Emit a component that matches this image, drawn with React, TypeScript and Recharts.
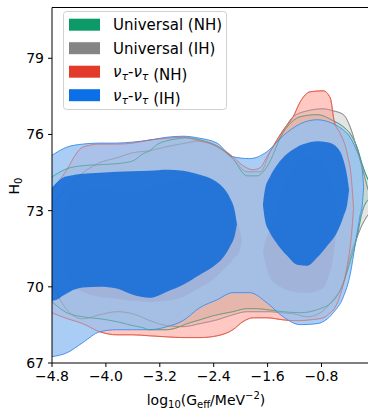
import { ComposedChart, Area, XAxis, YAxis, ReferenceLine } from "recharts";

// contour bands, one row per slice: [log10 Geff, lower H0, upper H0]
type Row = [number, number, number];

const X_TICKS = [-4.8, -4.0, -3.2, -2.4, -1.6, -0.8];
const Y_TICKS = [67, 70, 73, 76, 79];

// Universal (NH)
const universalNH95: Row[] = [
  [-4.8, 69.41, 74.33],
  [-4.58, 68.98, 74.65],
  [-4.345, 68.82, 74.77],
  [-4.09, 68.74, 74.81],
  [-3.84, 68.63, 74.85],
  [-3.6, 68.47, 74.96],
  [-3.45, 68.39, 75.24],
  [-3.35, 68.31, 75.36],
  [-3.245, 68.31, 75.6],
  [-3.095, 68.31, 75.75],
  [-2.945, 68.39, 75.83],
  [-2.795, 68.55, 75.87],
  [-2.605, 68.7, 75.79],
  [-2.41, 68.86, 75.6],
  [-2.115, 69.02, 75.04],
  [-1.905, 69.14, 74.37],
  [-1.755, 69.14, 74.37],
  [-1.61, 69.1, 74.73],
  [-1.37, 69.02, 76.07],
  [-1.115, 68.98, 76.7],
  [-0.865, 69.1, 76.78],
  [-0.625, 69.45, 76.54],
  [-0.475, 70.16, 76.3],
  [-0.375, 70.99, 76.03],
  [-0.27, 72.01, 75.48],
  [-0.195, 72.96, 74.81],
  [-0.11, 73.43, 74.22],
];

// Universal (IH)
const universalIH95: Row[] = [
  [-4.8, 70.12, 73.19],
  [-4.58, 69.1, 73.94],
  [-4.345, 68.74, 74.49],
  [-4.09, 68.9, 74.89],
  [-3.84, 69.02, 75.08],
  [-3.6, 68.94, 75.28],
  [-3.35, 68.67, 75.36],
  [-3.095, 68.47, 75.52],
  [-2.855, 68.43, 75.64],
  [-2.605, 68.55, 75.75],
  [-2.35, 68.7, 75.56],
  [-2.115, 68.9, 75.04],
  [-1.905, 69.02, 74.53],
  [-1.71, 69.02, 74.53],
  [-1.56, 69.02, 75.32],
  [-1.415, 68.98, 75.91],
  [-1.22, 68.94, 76.7],
  [-1.01, 68.82, 76.93],
  [-0.775, 69.06, 77.01],
  [-0.625, 69.49, 76.93],
  [-0.475, 70.16, 76.78],
  [-0.375, 71.19, 76.3],
  [-0.27, 71.97, 75.4],
  [-0.195, 72.45, 74.69],
  [-0.11, 72.84, 73.82],
];

// nu_tau - nu_tau (NH)
const nuTauNH95: Row[] = [
  [-4.8, 68.98, 73.82],
  [-4.58, 68.75, 74.61],
  [-4.43, 68.63, 75.28],
  [-4.345, 68.55, 75.5],
  [-4.09, 68.23, 75.62],
  [-3.84, 68.11, 75.62],
  [-3.6, 68.11, 75.66],
  [-3.35, 68.07, 75.78],
  [-3.095, 68.03, 75.85],
  [-2.855, 68.0, 75.89],
  [-2.605, 68.0, 75.74],
  [-2.35, 68.07, 75.54],
  [-2.115, 68.31, 75.12],
  [-1.965, 68.63, 74.77],
  [-1.815, 68.78, 74.61],
  [-1.71, 68.78, 74.69],
  [-1.61, 68.78, 75.12],
  [-1.37, 68.7, 76.17],
  [-1.22, 68.67, 76.7],
  [-1.115, 68.67, 77.29],
  [-0.97, 68.7, 77.68],
  [-0.775, 68.78, 77.72],
  [-0.67, 68.98, 77.44],
  [-0.61, 69.14, 76.5],
  [-0.52, 69.69, 76.03],
  [-0.415, 70.87, 75.2],
  [-0.355, 72.05, 74.22],
  [-0.325, 73.08, 73.08],
];

// nu_tau - nu_tau (IH)
const nuTauIH95: Row[] = [
  [-4.8, 67.25, 75.18],
  [-4.58, 67.4, 75.5],
  [-4.345, 67.8, 75.62],
  [-4.09, 68.23, 75.66],
  [-3.84, 68.31, 75.66],
  [-3.6, 68.31, 75.7],
  [-3.35, 68.31, 75.78],
  [-3.095, 68.43, 75.89],
  [-2.855, 68.67, 75.93],
  [-2.605, 69.18, 75.85],
  [-2.35, 69.49, 75.66],
  [-2.115, 69.77, 75.12],
  [-1.865, 69.77, 75.05],
  [-1.61, 69.37, 75.32],
  [-1.37, 68.82, 75.95],
  [-1.115, 68.51, 76.42],
  [-0.865, 68.55, 76.58],
  [-0.625, 68.98, 76.42],
  [-0.475, 69.61, 76.17],
  [-0.375, 70.48, 75.89],
  [-0.3, 71.66, 75.5],
  [-0.225, 72.84, 74.97],
  [-0.195, 73.23, 74.61],
  [-0.175, 73.92, 73.92],
];

const nuTauIH68Left: Row[] = [
  [-4.8, 69.45, 73.91],
  [-4.73, 69.49, 74.11],
  [-4.64, 69.65, 74.3],
  [-4.535, 69.81, 74.37],
  [-4.345, 69.97, 74.45],
  [-4.09, 70.0, 74.49],
  [-3.84, 69.93, 74.53],
  [-3.6, 69.69, 74.55],
  [-3.35, 69.57, 74.57],
  [-3.095, 69.81, 74.61],
  [-2.855, 70.08, 74.57],
  [-2.605, 70.48, 74.41],
  [-2.41, 70.79, 74.22],
  [-2.26, 71.15, 73.91],
  [-2.16, 71.58, 73.51],
  [-2.085, 72.05, 72.96],
  [-2.055, 72.46, 72.46],
];

const nuTauIH68Right: Row[] = [
  [-1.67, 73.23, 73.23],
  [-1.64, 72.64, 73.82],
  [-1.565, 72.13, 74.33],
  [-1.46, 71.7, 74.8],
  [-1.31, 71.22, 75.24],
  [-1.16, 70.87, 75.51],
  [-1.01, 70.83, 75.66],
  [-0.865, 71.15, 75.73],
  [-0.715, 71.62, 75.69],
  [-0.565, 72.17, 75.48],
  [-0.475, 72.76, 75.0],
  [-0.415, 73.31, 74.29],
  [-0.39, 73.82, 73.82],
];

// 68% islands shared by the Universal runs and nu_tau (NH)
const others68Left: Row[] = [
  [-4.64, 72.13, 72.13],
  [-4.61, 70.67, 73.04],
  [-4.535, 70.16, 73.59],
  [-4.345, 69.81, 73.75],
  [-4.09, 69.61, 73.82],
  [-3.84, 69.53, 73.79],
  [-3.6, 69.45, 73.71],
  [-3.35, 69.41, 73.9],
  [-3.095, 69.45, 74.14],
  [-2.855, 69.61, 74.3],
  [-2.605, 69.97, 74.33],
  [-2.41, 70.28, 74.22],
  [-2.26, 70.67, 73.82],
  [-2.115, 71.07, 73.04],
  [-2.01, 71.46, 72.17],
  [-1.98, 71.81, 71.81],
];

const others68Right: Row[] = [
  [-1.67, 71.34, 71.34],
  [-1.625, 70.87, 71.85],
  [-1.565, 70.36, 72.25],
  [-1.415, 70.0, 73.55],
  [-1.22, 69.81, 74.73],
  [-1.07, 69.77, 75.05],
  [-0.97, 69.77, 75.09],
  [-0.865, 69.85, 75.01],
  [-0.775, 69.93, 74.85],
  [-0.715, 70.28, 74.53],
  [-0.625, 71.19, 73.94],
  [-0.565, 72.64, 72.64],
];

const LABELS = ["Universal (NH)", "Universal (IH)", "ντ-ντ (NH)", "ντ-ντ (IH)"];
const COLORS = ["#0b9a68", "#858585", "#e23b2b", "#0b70e8"];

// the three runs drawn beneath nu_tau (IH): 95% fill, 95% outline, 68% fill
const UNDER = [
  { rows: universalNH95, fill: "#7acda3", fillOp: 0.4, line: "#2f9c74", inner: "#009966" },
  { rows: universalIH95, fill: "#bcbcbc", fillOp: 0.4, line: "#8f8f8f", inner: "#808080" },
  { rows: nuTauNH95, fill: "#ff9a90", fillOp: 0.55, line: "#e4604f", inner: "#e03a2a" },
];

const toBand = (rows: Row[]) => rows.map(([x, lo, hi]) => ({ x, h0: [lo, hi] }));

const fmt = (v: number) => (v < 0 ? "\u2212" + Math.abs(v).toFixed(1) : v.toFixed(1));

interface BandProps {
  rows: Row[];
  fill?: string;
  opacity?: number;
  stroke?: string;
  strokeOpacity?: number;
}

function band({ rows, fill, opacity, stroke, strokeOpacity }: BandProps, key: string) {
  return (
    <Area
      key={key}
      data={toBand(rows)}
      dataKey="h0"
      type="monotone"
      fill={fill ?? "none"}
      fillOpacity={opacity ?? 1}
      stroke={stroke ?? "none"}
      strokeOpacity={strokeOpacity ?? 1}
      strokeWidth={1}
      dot={false}
      activeDot={false}
      isAnimationActive={false}
    />
  );
}

function Nu() {
  return (
    <>
      <tspan fontStyle="italic">ν</tspan>
      <tspan fontStyle="italic" fontSize={11} dy={3}>τ</tspan>
      <tspan dy={-3}>-</tspan>
      <tspan fontStyle="italic">ν</tspan>
      <tspan fontStyle="italic" fontSize={11} dy={3}>τ</tspan>
    </>
  );
}

export default function App() {
  const font = "DejaVu Sans, sans-serif";

  return (
    <div style={{ position: "absolute", left: 0, top: 0, width: 368, height: 411, background: "#fff" }}>
      <ComposedChart width={368} height={411} margin={{ top: 7.5, right: 0, left: 0, bottom: 0 }}>
        <XAxis
          type="number"
          dataKey="x"
          domain={[-4.8, -0.11]}
          allowDataOverflow
          ticks={X_TICKS}
          tickFormatter={fmt}
          height={48}
          stroke="#000"
          tickSize={4}
          tickMargin={4}
          tick={{ fill: "#000", fontSize: 14, fontFamily: font }}
        />
        <YAxis
          type="number"
          domain={[67, 81]}
          allowDataOverflow
          ticks={Y_TICKS}
          width={52}
          stroke="#000"
          tickSize={4}
          tickMargin={4}
          tick={{ fill: "#000", fontSize: 14, fontFamily: font }}
        />

        {UNDER.flatMap((s, i) => [
          band({ rows: s.rows, fill: s.fill, opacity: s.fillOp, stroke: s.line }, `f95-${i}`),
          band({ rows: others68Left, fill: s.inner, opacity: 0.35 }, `f68l-${i}`),
          band({ rows: others68Right, fill: s.inner, opacity: 0.35 }, `f68r-${i}`),
        ])}

        {band({ rows: nuTauIH95, fill: "#95c0f3", opacity: 0.8, stroke: "#4a92ea" }, "b95")}

        {/* outlines of the lower runs still show through the blue fill */}
        {UNDER.map((s, i) => band({ rows: s.rows, stroke: s.line, strokeOpacity: 0.5 }, `l95-${i}`))}

        {band({ rows: nuTauIH68Left, fill: "#0a66d8", opacity: 0.82 }, "b68l")}
        {band({ rows: nuTauIH68Right, fill: "#0a66d8", opacity: 0.82 }, "b68r")}

        <ReferenceLine y={81} stroke="#000" strokeWidth={1} />
      </ComposedChart>

      <svg
        width={368}
        height={411}
        style={{ position: "absolute", left: 0, top: 0, pointerEvents: "none" }}
        fontFamily={font}
      >
        {/* legend */}
        <rect x={63.5} y={11.5} width={163} height={98} rx={3} fill="#fff" fillOpacity={0.8} stroke="#d0d0d0" />
        {LABELS.map((label, i) => {
          const cy = 24.7 + i * 23.5;
          return (
            <g key={label}>
              <rect x={69} y={cy - 6} width={31} height={12} fill={COLORS[i]} />
              <text x={113} y={cy + 5.5} fontSize={15} fill="#000">
                {i < 2 ? label : (
                  <>
                    <Nu />
                    <tspan>{label.slice(5)}</tspan>
                  </>
                )}
              </text>
            </g>
          );
        })}

        {/* axis titles */}
        <text x={18.5} y={186} fontSize={14} fill="#000" textAnchor="middle" transform="rotate(-90 18.5 186)">
          H<tspan fontSize={10} dy={3}>0</tspan>
        </text>
        <text x={206} y={405} fontSize={14} fill="#000" textAnchor="middle">
          log<tspan fontSize={10} dy={3}>10</tspan>
          <tspan dy={-3}>(G</tspan>
          <tspan fontSize={10} dy={3}>eff</tspan>
          <tspan dy={-3}>/MeV</tspan>
          <tspan fontSize={10} dy={-6}>−2</tspan>
          <tspan dy={6}>)</tspan>
        </text>
      </svg>
    </div>
  );
}
